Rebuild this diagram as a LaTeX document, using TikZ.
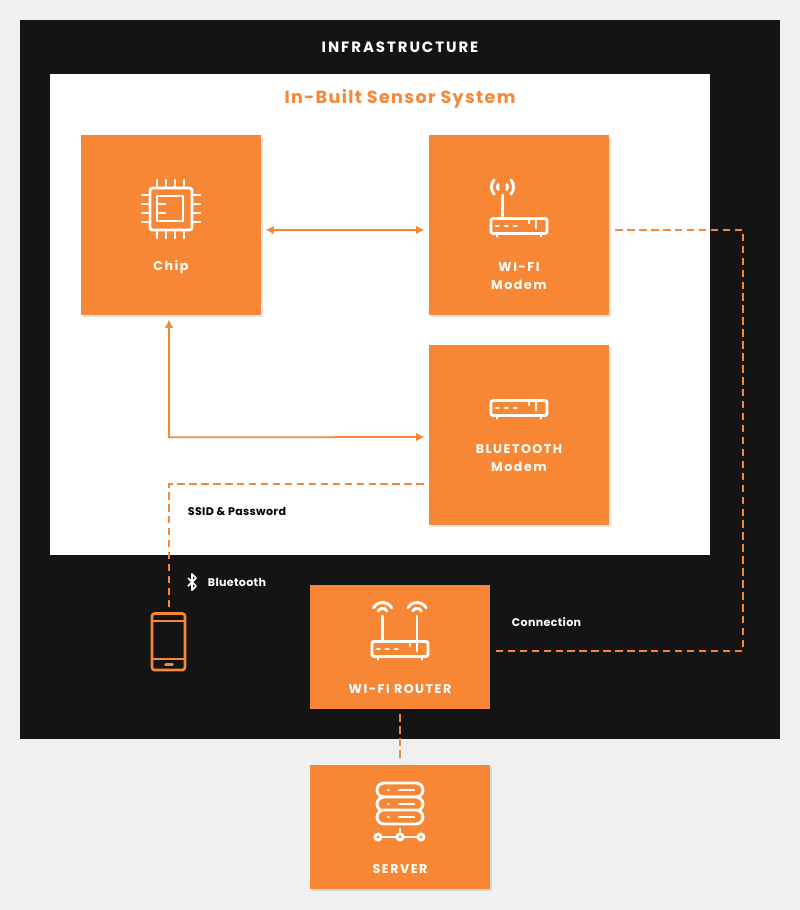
\documentclass[tikz,border=0pt]{standalone}
\usepackage{fontspec}
\setmainfont{Poppins}
\usetikzlibrary{arrows.meta, calc, shadows}
\definecolor{sysorange}{RGB}{247,135,53}
\definecolor{infrablack}{RGB}{20,20,20}
\definecolor{pagegray}{RGB}{240,240,240}
\tikzset{
    box/.style={fill=sysorange, minimum width=3.6cm, inner sep=0pt, drop shadow={shadow xshift=1.2pt, shadow yshift=-1.2pt, opacity=0.1, fill=black}},
    boxlabel/.style={text=white, align=center, font=\fontsize{7.2}{10.2}\selectfont\bfseries\addfontfeature{LetterSpace=12}},
    smalllabel/.style={font=\fontsize{6.3}{8}\selectfont\bfseries\addfontfeature{LetterSpace=3}},
    solidlink/.style={sysorange, line width=1pt, {Latex[length=1.7mm,width=1.7mm]}-{Latex[length=1.7mm,width=1.7mm]}, shorten <=0.08cm, shorten >=0.08cm},
    dashlink/.style={sysorange, line width=0.95pt, dash pattern=on 4.2pt off 2.6pt, shorten <=0.1cm, shorten >=0.08cm},
    icon/.style={white, line width=1.65pt, line cap=round, line join=round},
    modemicon/.pic={
        \draw[icon, rounded corners=1.2pt] (-28,-7.5) rectangle (28,7.5);
        \foreach \dotx in {-23,-14,-5} \draw[icon] (\dotx,0) -- (\dotx+2.5,0);
        \draw[icon] (10,-6.5) -- (10,-3);
        \draw[icon] (17,-6.5) -- (17,2);
        \draw[icon] (-22,8) -- (-22,10.5);
        \draw[icon] (22,8) -- (22,10.5);
    },
    wifiarcs/.pic={
        \draw[icon] (-155:4.8) arc[start angle=-155, end angle=-25, radius=4.8];
        \draw[icon] (-150:10.5) arc[start angle=-150, end angle=-30, radius=10.5];
    }
}
\begin{document}
\begin{tikzpicture}[x=0.02cm, y=-0.02cm]
    \useasboundingbox (0,0) rectangle (800,910);
    \fill[pagegray] (0,0) rectangle (800,910);

    % Frames
    \fill[infrablack] (20,20) rectangle (780,739);
    \fill[white] (50,74) rectangle (710,555);
    \node[text=white, font=\fontsize{8.5}{10}\selectfont\bfseries\addfontfeature{LetterSpace=13}] (infratitle) at (400,47) {INFRASTRUCTURE};
    \node[text=sysorange, font=\fontsize{10}{12}\selectfont\bfseries\addfontfeature{LetterSpace=7.5}] (systitle) at (400,99) {In-Built Sensor System};

    % Boxes
    \node[box, minimum height=3.6cm] (chip) at (171,225) {};
    \node[box, minimum height=3.6cm] (wifi) at (519,225) {};
    \node[box, minimum height=3.6cm] (bluetooth) at (519,435) {};
    \node[box, minimum height=2.48cm] (router) at (400,647) {};
    \node[box, minimum height=2.48cm] (server) at (400,827) {};

    % Box labels
    \node[boxlabel] (chiplabel) at (171,267) {Chip};
    \node[boxlabel] (wifilabel) at (519,276) {WI-FI\\Modem};
    \node[boxlabel] (bluetoothlabel) at (519,458) {BLUETOOTH\\Modem};
    \node[boxlabel] (routerlabel) at (400,689) {WI-FI ROUTER};
    \node[boxlabel] (serverlabel) at (400,869) {SERVER};

    % Chip icon
    \draw[icon, rounded corners=1.5pt] (150,188) rectangle (192,230);
    \draw[icon] (157,196) rectangle (183,221);
    \draw[icon] (157,204) -- (165,204) (157,213) -- (165,213);
    \foreach \pinpos in {157,166,175,184} {
        \draw[icon] (\pinpos,180) -- (\pinpos,186);
        \draw[icon] (\pinpos,232) -- (\pinpos,238);
    }
    \foreach \pinpos in {195,204,213,222} {
        \draw[icon] (142,\pinpos) -- (148,\pinpos);
        \draw[icon] (194,\pinpos) -- (200,\pinpos);
    }

    % Wi-Fi modem icon
    \pic at (519,226) {modemicon};
    \draw[icon] (502.5,195) -- (502.5,217);
    \draw[icon] (502.5,187) ++(150:5) arc[start angle=150, end angle=210, radius=5];
    \draw[icon] (502.5,187) ++(30:5) arc[start angle=30, end angle=-30, radius=5];
    \draw[icon] (502.5,187) ++(140:11) arc[start angle=140, end angle=220, radius=11];
    \draw[icon] (502.5,187) ++(40:11) arc[start angle=40, end angle=-40, radius=11];

    % Bluetooth modem icon
    \pic at (519,408) {modemicon};

    % Router icon
    \pic at (400,649) {modemicon};
    \draw[icon] (382.5,616) -- (382.5,640);
    \draw[icon] (417,616) -- (417,640);
    \pic at (382.5,613) {wifiarcs};
    \pic at (417,613) {wifiarcs};

    % Server icon
    \foreach \rowy in {783,797,810} {
        \draw[icon, rounded corners=4pt, fill=sysorange] (377,\rowy) rectangle (423,\rowy+14);
        \draw[icon] (388,\rowy+7) -- (388.5,\rowy+7);
        \draw[icon] (399,\rowy+7) -- (414,\rowy+7);
    }
    \draw[icon] (400,829) -- (400,834);
    \draw[icon] (381,837) -- (396,837) (403,837) -- (418,837);
    \foreach \hubx in {378,400,421} \draw[icon] (\hubx,837) circle (3);

    % Phone
    \draw[sysorange, line width=1.5pt, rounded corners=1.5pt] (152,613.5) rectangle (185,670);
    \draw[sysorange, line width=1.5pt] (152,621) -- (185,621) (152,659) -- (185,659);
    \draw[sysorange, line width=1.5pt, line cap=round] (165.5,664.5) -- (172.5,664.5);
    \coordinate (phone) at (169,613);

    % Bluetooth mark
    \draw[white, line width=1pt, line join=round] (188,578) -- (196,586) -- (192,590) -- (192,574) -- (196,578) -- (188,586);

    % Connectors
    \draw[solidlink] ($(chip.east)+(0,5)$) -- ($(wifi.west)+(0,5)$);
    \draw[solidlink] ($(chip.south)+(-2,0)$) -- ($(chip.south)+(-2,122)$) -- ($(bluetooth.west)+(0,2)$);
    \draw[dashlink, shorten <=0.12cm] ($(wifi.east)+(0,5)$) -- (743,230) -- (743,651) -- ($(router.east)+(0,4)$);
    \draw[dashlink] ($(bluetooth.west)+(0,49)$) -- (169,484) -- ($(phone)+(0,-2)$);
    \draw[dashlink, shorten >=0.1cm] (router.south) -- (server.north);

    % Connector labels
    \node[smalllabel, text=black] (ssidlabel) at (237,511.5) {SSID \& Password};
    \node[smalllabel, text=white] (btlabel) at (237,582.5) {Bluetooth};
    \node[smalllabel, text=white] (connlabel) at (546.5,622.5) {Connection};
\end{tikzpicture}
\end{document}
